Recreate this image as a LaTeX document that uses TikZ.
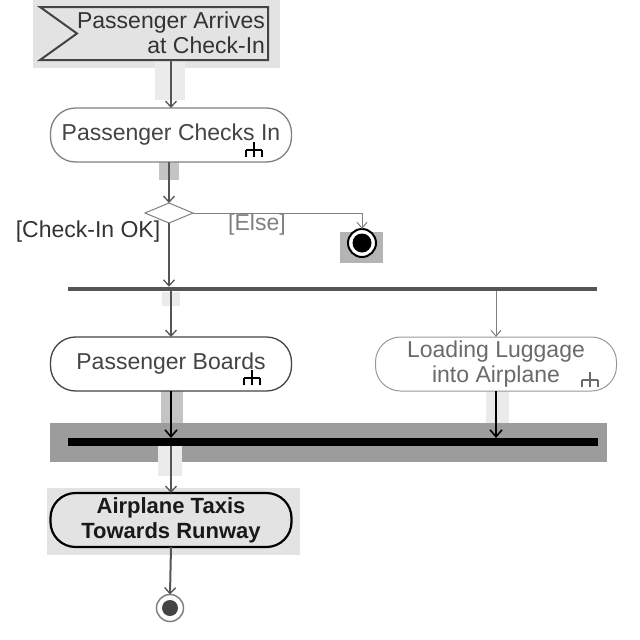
\documentclass[tikz,border=0pt]{standalone}
\usepackage{fontspec}
\setmainfont{Liberation Sans}
\usetikzlibrary{arrows.meta,shapes.geometric}
\definecolor{linegray}{HTML}{555555}
\definecolor{bgflag}{HTML}{E3E3E3}
\definecolor{bandlight}{HTML}{EBEBEB}
\definecolor{bandmid}{HTML}{C4C4C4}
\definecolor{joinbg}{HTML}{9C9C9C}
\definecolor{finbg}{HTML}{B4B4B4}
\definecolor{txtdark}{HTML}{333333}
\definecolor{txtmid}{HTML}{444444}
\definecolor{txtlight}{HTML}{6A6A6A}
\begin{document}
\begin{tikzpicture}[x=1pt,y=-1pt,
  every node/.style={font=\fontsize{23}{25}\selectfont, inner sep=0pt, outer sep=0pt},
  act/.style={rectangle, rounded corners=25pt, minimum width=241pt, minimum height=54pt, fill=white, align=center},
  link/.style={draw=linegray, line width=2pt, -{Straight Barb[length=6pt,width=11pt,line width=1.3pt]}},
  thinlink/.style={draw=gray, line width=1pt, -{Straight Barb[length=6pt,width=10pt,line width=1pt]}},
  blacklink/.style={draw=black, line width=2.4pt, -{Straight Barb[length=7pt,width=12pt,line width=1.6pt]}},
  rakepic/.pic={\draw[line width=1.2pt] (0,-8) -- (0,0) (-8,0) -- (8,0) (-8,0) -- (-8,7) (0,0) -- (0,7) (8,0) -- (8,7);}
]
\useasboundingbox (0,0) rectangle (640,640);
\fill[white] (0,0) rectangle (640,640);

% background highlights
\fill[bgflag] (33,0) rectangle (280,68);
\fill[bandlight] (155,60) rectangle (185,100);
\fill[bandmid] (159,162) rectangle (179,180);
\fill[bandlight] (162,292) rectangle (180,306);
\fill[bandmid] (161,390) rectangle (183,423);
\fill[bandlight] (486,390) rectangle (509,423);
\fill[joinbg] (50,423) rectangle (607,462);
\fill[bandlight] (158,446) rectangle (182,476);
\fill[bgflag] (47,488) rectangle (300,555);
\fill[finbg] (340,232) rectangle (383,263);

% accept event
\node[rectangle, minimum width=228pt, minimum height=53pt] (flag) at (154,33.5) {};
\filldraw[fill=bgflag, draw=txtmid, line width=2pt]
  (flag.north west) -- (flag.north east) -- (flag.south east) -- (flag.south west)
  -- ([xshift=37pt]flag.west) -- cycle;
\node[anchor=east, align=right, text=txtdark] (flagtext) at (265,33) {Passenger Arrives\\at Check-In};

% actions
\node[act, draw=gray, line width=1.3pt, text=txtmid] (checks) at (171,135) {Passenger Checks In};
\pic at (254,150) {rakepic};

\node[diamond, draw=gray, fill=white, line width=1pt, minimum width=48pt, minimum height=20pt] (dec) at (169,213) {};

\node[circle, draw=black, line width=2pt, fill=white, minimum size=28pt] (fin1) at (362,243) {};
\fill[black] (fin1.center) circle (9.5);

\node[rectangle, fill=linegray, minimum width=529pt, minimum height=4.5pt] (fork) at (332.5,289) {};

\node[act, draw=txtmid, line width=1.3pt, text=txtmid] (boards) at (171,364) {Passenger Boards};
\pic at (252,378) {rakepic};

\node[act, draw=gray!80, line width=1pt, text=txtlight] (load) at (496,364) {Loading Luggage\\into Airplane};
\pic[draw=txtlight] at (590,380) {rakepic};

\node[rectangle, fill=black, minimum width=530pt, minimum height=8pt] (join) at (333,442) {};

\node[act, draw=black, line width=2.2pt, fill=bgflag, text=black!90, font=\fontsize{22}{25}\selectfont\bfseries] (taxis) at (171,520) {Airplane Taxis\\Towards Runway};

\node[circle, draw=gray, line width=1.5pt, fill=white, minimum size=27pt] (fin2) at (170,608) {};
\fill[txtmid] (fin2.center) circle (8);

% labels
\node[text=txtdark] (okl) at (88,232) {[Check-In OK]};
\node[text=gray] (elsel) at (257,225) {[Else]};

% connectors
\draw[link] (flag.south -| checks.north) -- (checks.north);
\draw[link] (checks.south -| dec.north) -- (dec.north);
\draw[link] (dec.south) -- (dec.south |- fork.north);
\draw[thinlink] (dec.east) -| (fin1.north);
\draw[link] (fork.south -| boards.north) -- (boards.north);
\draw[thinlink] (fork.south -| load.north) -- (load.north);
\draw[blacklink] (boards.south) -- (boards.south |- join.north);
\draw[blacklink] (load.south) -- (load.south |- join.north);
\draw[link] (join.south -| taxis.north) -- (taxis.north);
\draw[link] (taxis.south) -- (fin2.north);
\end{tikzpicture}
\end{document}
